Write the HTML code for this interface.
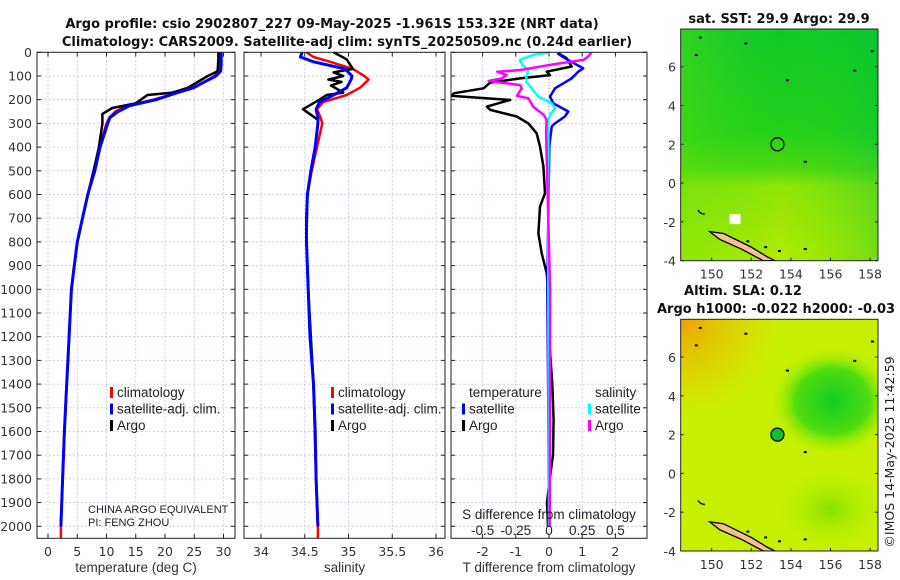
<!DOCTYPE html>
<html><head><meta charset="utf-8"><style>
body{margin:0;background:#fff}
svg{display:block;font-family:"Liberation Sans","DejaVu Sans",sans-serif}
.dv{font-family:"DejaVu Sans","Liberation Sans",sans-serif}
</style></head><body>
<svg id="c" width="900" height="580" viewBox="0 0 900 580">
<defs>
<linearGradient id="sstg" x1="0" y1="0" x2="0" y2="1">
<stop offset="0" stop-color="#10c828"/><stop offset="0.45" stop-color="#22d018"/><stop offset="0.6" stop-color="#50d810"/><stop offset="0.68" stop-color="#90e408"/><stop offset="1" stop-color="#b4ec00"/></linearGradient>
<linearGradient id="sstr" x1="0" y1="0" x2="1" y2="0">
<stop offset="0" stop-color="#60e010" stop-opacity="0.4"/><stop offset="0.5" stop-color="#30d818" stop-opacity="0"/><stop offset="1" stop-color="#00c040" stop-opacity="0.35"/></linearGradient>
<radialGradient id="slao" gradientUnits="userSpaceOnUse" cx="681" cy="319" r="110"><stop offset="0" stop-color="#f0a000"/><stop offset="0.6" stop-color="#e8c800" stop-opacity="0.5"/><stop offset="1" stop-color="#d0f000" stop-opacity="0"/></radialGradient>
<radialGradient id="slag" cx="0.5" cy="0.5" r="0.5"><stop offset="0" stop-color="#10cc20"/><stop offset="0.6" stop-color="#50dd10"/><stop offset="1" stop-color="#b0ee00" stop-opacity="0"/></radialGradient>
<radialGradient id="slag2" cx="0.5" cy="0.5" r="0.5"><stop offset="0" stop-color="#80e400"/><stop offset="1" stop-color="#c8f000" stop-opacity="0"/></radialGradient>
<clipPath id="clip1"><rect x="680.7" y="29" width="197.3" height="231.7"/></clipPath>
<clipPath id="clip2"><rect x="680.7" y="319.3" width="197.3" height="231.7"/></clipPath>
</defs>
<g class="dv" font-weight="bold" font-size="13" text-anchor="middle" fill="#111">
<text x="332" y="28">Argo profile: csio 2902807_227 09-May-2025 -1.961S 153.32E (NRT data)</text>
<text x="347" y="46">Climatology: CARS2009. Satellite-adj clim: synTS_20250509.nc (0.24d earlier)</text>
</g>
<g id="plots"></g>
<g id="maps"></g>
<text class="dv" transform="translate(894,452) rotate(-90)" text-anchor="middle" font-size="12.5" fill="#222">©IMOS 14-May-2025 11:42:59</text>
</svg>
<script>
// ---- data ----
const tDepth=[0,50,80,100,150,175,200,225,250,275,300,400,500,600,700,800,900,1000,1200,1400,1600,1800,2000,2050];
const tClim=[29.1,29.2,29.2,28.5,25,21.5,18,13.5,11.5,10.5,10,8.8,7.8,6.8,5.9,5.0,4.5,4.0,3.6,3.2,2.8,2.5,2.2,2.2];
const tSat=[29.6,29.6,29.5,28.7,24.8,21.5,18.5,14,12,10.6,10.2,8.9,8.0,6.8,5.9,5.0,4.5,4.0,3.6,3.2,2.8,2.5,2.2];
const tArgoDepth=[0,80,100,150,170,180,215,235,260,300,400,500,600,700,800,900,1000,1200,1400,1600,1800,2000];
const tArgo=[29.2,29.0,27.3,23.9,21.3,17,15,11,9.3,9.3,8.7,7.8,6.8,5.9,5.0,4.5,4.0,3.6,3.2,2.8,2.5,2.2];
const sDepth=[0,20,40,70,100,115,150,180,210,240,275,300,400,500,600,700,800,1000,1200,1400,1600,1800,2000,2050];
const sClim=[34.52,34.6,34.79,35.05,35.18,35.23,35.13,34.98,34.71,34.64,34.68,34.7,34.64,34.58,34.53,34.52,34.52,34.54,34.56,34.6,34.62,34.63,34.65,34.65];
const sSat=[34.47,34.45,34.6,34.96,35.04,35.03,34.98,34.83,34.67,34.63,34.65,34.65,34.62,34.57,34.53,34.52,34.52,34.54,34.56,34.6,34.62,34.63,34.65];
const sArgoDepth=[0,30,70,85,100,115,125,140,170,180,200,240,285,300,400,500,600,800,1000,1400,1800,2000];
const sArgo=[34.83,34.98,35.05,34.83,34.94,34.77,34.92,34.8,34.94,34.75,34.67,34.48,34.65,34.65,34.62,34.57,34.53,34.52,34.54,34.6,34.63,34.65];
const dTSatDepth=[4,25,68,82,110,152,187,215,250,271,300,313,398,1003,1500,2000];
const dTSat=[0.25,0.48,1.03,0.88,0.68,0.18,0.03,0.13,0.58,0.48,0.18,0.08,0.01,-0.05,-0.02,0];
const dTArgoDepth=[4,25,60,82,96,110,128,152,173,184,201,229,243,271,300,342,398,482,595,651,764,848,932,1003,1200,1400,1550,1700,1800,1900,2000];
const dTArgo=[0.28,0.53,0.68,-0.07,0.03,-0.87,-1.77,-1.97,-2.87,-2.92,-1.17,-1.87,-1.77,-0.97,-0.62,-0.37,-0.27,-0.17,-0.12,-0.27,-0.32,-0.22,-0.07,-0.02,0,0.1,0.14,0.12,0.02,-0.06,-0.03];
const dSSatDepth=[0,11,32,53,75,103,124,152,187,215,236,264,300,370,1003,2000];
const dSSat=[0.0075,-0.12,-0.22,-0.2,-0.155,-0.17,-0.17,-0.13,-0.08,0.02,0.045,0.008,-0.013,-0.005,-0.005,0];
const dSArgoDepth=[0,18,32,53,75,82,96,110,121,138,152,173,184,194,229,264,285,342,1003,2000];
const dSArgo=[0.32,0.295,0.26,0.0075,-0.22,-0.39,-0.32,-0.355,-0.455,-0.22,-0.205,-0.23,-0.24,-0.155,-0.12,-0.04,-0.018,-0.022,0.008,0.005];
const depthTicks=[0,100,200,300,400,500,600,700,800,900,1000,1100,1200,1300,1400,1500,1600,1700,1800,1900,2000];
const tTicks=[0,5,10,15,20,25,30];
const sTicks=[34,34.5,35,35.5,36];
const dTicks=[-2,-1,0,1,2];
const dSTickLabels=["-0.5","-0.25","0","0.25","0.5"];
const dSTickVals=[-0.5,-0.25,0,0.25,0.5];

const NS="http://www.w3.org/2000/svg";
function mk(tag,attrs,parent,txt){const e=document.createElementNS(NS,tag);for(const k in attrs)e.setAttribute(k,attrs[k]);if(txt!==undefined)e.textContent=txt;parent.appendChild(e);return e;}
const yD=d=>52.3+d*0.237;
const plots=document.getElementById('plots');
const panels=[
 {name:'temperature-panel',x0:37,x1:235,f:v=>48+v*5.85,ticks:tTicks,lbl:tTicks.map(String),label:'temperature (deg C)'},
 {name:'salinity-panel',x0:244,x1:445,f:v=>261+(v-34)*87.5,ticks:sTicks,lbl:["34","34.5","35","35.5","36"],label:'salinity'},
 {name:'difference-panel',x0:451,x1:647,f:v=>549+v*33.2,ticks:dTicks,lbl:dTicks.map(String),label:'T difference from climatology'}
];
panels.forEach((p,pi)=>{
 const g=mk('g',{},plots);
 
 
 mk('rect',{x:p.x0,y:52.3,width:p.x1-p.x0,height:486,fill:'#fff'},g);
 depthTicks.forEach(d=>{mk('line',{x1:p.x0,x2:p.x1,y1:yD(d),y2:yD(d),stroke:'#c0c4e8','stroke-width':0.8,'stroke-dasharray':'2,2'},g);
  mk('line',{x1:p.x0,x2:p.x0+4,y1:yD(d),y2:yD(d),stroke:'#222'},g);mk('line',{x1:p.x1-4,x2:p.x1,y1:yD(d),y2:yD(d),stroke:'#222'},g);});
 p.ticks.forEach((t,i)=>{const x=p.f(t);
  mk('line',{x1:x,x2:x,y1:52.3,y2:538.3,stroke:(pi==2&&t==0)?'#555':'#c0c4e8','stroke-width':0.8,'stroke-dasharray':(pi==2&&t==0)?'1,2':'2,2'},g);
  mk('line',{x1:x,x2:x,y1:538.3,y2:534,stroke:'#222'},g);mk('line',{x1:x,x2:x,y1:52.3,y2:56.5,stroke:'#222'},g);
  const tl=mk('text',{x:x,y:556,'text-anchor':'middle','font-size':12.5,fill:'#333',class:'dv'},g,p.lbl[i]);
  
  });
 const al=mk('text',{x:(p.x0+p.x1)/2,y:572,'text-anchor':'middle','font-size':13.5,fill:'#333'},g,p.label);
 
 
 p.g=g;
});
const yax=mk('g',{class:'dv'},plots);


depthTicks.forEach(d=>mk('text',{x:32,y:yD(d)+4.5,'text-anchor':'end','font-size':12.5,fill:'#333'},yax,String(d)));
function line(g,depths,vals,f,color,name,w){
 const dstr=vals.map((v,i)=>(i?'L':'M')+f(v).toFixed(1)+','+yD(depths[i]).toFixed(1)).join('');
 const pth=mk('path',{d:dstr,fill:'none',stroke:color,'stroke-width':w||3,'stroke-linejoin':'round'},g);
 
 
}
const P=panels;
line(P[0].g,tDepth,tClim,P[0].f,'#f00','temp-climatology-line',2.5);
line(P[0].g,tArgoDepth,tArgo,P[0].f,'#000','temp-argo-line',2.5);
line(P[0].g,tDepth.slice(0,tSat.length),tSat,P[0].f,'#00f','temp-satellite-line',3);
line(P[1].g,sDepth,sClim,P[1].f,'#f00','sal-climatology-line',2.5);
line(P[1].g,sArgoDepth,sArgo,P[1].f,'#000','sal-argo-line',2.5);
line(P[1].g,sDepth.slice(0,sSat.length),sSat,P[1].f,'#00f','sal-satellite-line',3);
const fS=v=>549+v*132.8;
line(P[2].g,dTArgoDepth,dTArgo,P[2].f,'#000','tdiff-argo-line',2.5);
line(P[2].g,dTSatDepth,dTSat,P[2].f,'#00f','tdiff-satellite-line',2.5);
line(P[2].g,dSSatDepth,dSSat,fS,'#0ff','sdiff-satellite-line',2.5);
line(P[2].g,dSArgoDepth,dSArgo,fS,'#f0f','sdiff-argo-line',2.5);
panels.forEach(p=>mk('rect',{x:p.x0,y:52.3,width:p.x1-p.x0,height:486,fill:'none',stroke:'#222','stroke-width':1},p.g));
function legend(x,y,items,g){items.forEach((it,i)=>{
 if(it[0])mk('rect',{x:x,y:y+i*16.5-10,width:3,height:11,fill:it[0]},g);
 const t=mk('text',{x:x+7,y:y+i*16.5,'font-size':13.5,fill:'#222'},g,it[1]);
 
 });}
legend(110,397,[['#f00','climatology'],['#00f','satellite-adj. clim.'],['#000','Argo']],P[0].g);
legend(331,397,[['#f00','climatology'],['#00f','satellite-adj. clim.'],['#000','Argo']],P[1].g);
legend(462,397,[[null,'temperature'],['#00f','satellite'],['#000','Argo']],P[2].g);
legend(588,397,[[null,'salinity'],['#0ff','satellite'],['#f0f','Argo']],P[2].g);
mk('text',{x:88,y:513,'font-size':11,fill:'#222'},P[0].g,'CHINA ARGO EQUIVALENT');
mk('text',{x:88,y:526,'font-size':11,fill:'#222'},P[0].g,'PI: FENG ZHOU');
mk('text',{x:549,y:519,'text-anchor':'middle','font-size':13.5,fill:'#222'},P[2].g,'S difference from climatology');
dSTickVals.forEach((v,i)=>mk('text',{x:fS(v),y:535,'text-anchor':'middle','font-size':13.5,fill:'#222'},P[2].g,dSTickLabels[i]));

// ---- maps ----
const lonTicks=[150,152,154,156,158];
const latTicks=[-4,-2,0,2,4,6];
const argoLon=153.32, argoLat=-1.961+3.96;
const maps=document.getElementById('maps');
function map(top,name,clip,bg){
 const g=mk('g',{},maps);
 
 
 const X=lon=>711.7+(lon-150)*19.8, Y=lat=>top+37.7+(6-lat)*19.4;
 const x0=680.7,x1=878,y0=top,y1=top+231.7;
 const inner=mk('g',{'clip-path':'url(#'+clip+')'},g);
 bg(inner,x0,y0,x1-x0,y1-y0);
 mk('path',{d:`M${X(149.9)},${Y(-2.5)} L${X(150.6)},${Y(-2.6)} L${X(152)},${Y(-3.3)} L${X(152.8)},${Y(-3.8)} L${X(153.2)},${Y(-4)} L${X(152.6)},${Y(-4)} L${X(151.5)},${Y(-3.4)} L${X(150.4)},${Y(-2.9)} Z`,fill:'#f5c090',stroke:'#000','stroke-width':1.3},inner);
 mk('path',{d:`M${X(149.3)},${Y(-1.4)} l3,3 l4,1`,fill:'none',stroke:'#000','stroke-width':1.3},inner);
 [[151.7,7.2],[158.1,6.8],[153.8,5.3],[149.4,7.5],[149.2,6.6],[154.7,1.1],[152.7,-3.3],[153.4,-3.5],[151.8,-3],[154.7,-3.4],[157.2,5.8]].forEach(p=>mk('rect',{x:X(p[0])-1,y:Y(p[1])-1,width:3,height:2,fill:'#000'},inner));
 mk('rect',{x:x0,y:y0,width:x1-x0,height:y1-y0,fill:'none',stroke:'#222'},g);
 lonTicks.forEach(l=>{mk('line',{x1:X(l),x2:X(l),y1:y1,y2:y1-3,stroke:'#222'},g);mk('text',{x:X(l),y:y1+18,'text-anchor':'middle','font-size':12.5,fill:'#333',class:'dv'},g,String(l));});
 latTicks.forEach(l=>{mk('line',{x1:x0,x2:x0+3,y1:Y(l),y2:Y(l),stroke:'#222'},g);mk('line',{x1:x1,x2:x1-3,y1:Y(l),y2:Y(l),stroke:'#222'},g);mk('text',{x:676,y:Y(l)+5,'text-anchor':'end','font-size':12.5,fill:'#333',class:'dv'},g,String(l));});
 return {g,X,Y,inner};
}
const m1=map(29,'sst-map','clip1',(g,x,y,w,h)=>{mk('rect',{x,y,width:w,height:h,fill:'url(#sstg)'},g);mk('rect',{x,y,width:w,height:h,fill:'url(#sstr)'},g);});
mk('rect',{x:m1.X(150.9),y:m1.Y(-1.6),width:11,height:10,fill:'#fff'},m1.inner);
const c1=mk('circle',{cx:m1.X(argoLon),cy:m1.Y(argoLat),r:6.5,fill:'none',stroke:'#000','stroke-width':1.3},m1.g);


mk('text',{x:779,y:23,'text-anchor':'middle','font-size':13,'font-weight':'bold',fill:'#111',class:'dv'},m1.g,'sat. SST: 29.9 Argo: 29.9');
const m2=map(319.3,'sla-map','clip2',(g,x,y,w,h)=>{mk('rect',{x,y,width:w,height:h,fill:'#c6f000'},g);
 mk('rect',{x,y,width:w,height:h,fill:'url(#slao)'},g);
 mk('ellipse',{cx:x+152,cy:y+82,rx:62,ry:54,fill:'url(#slag)'},g);
 mk('ellipse',{cx:x+150,cy:y+190,rx:60,ry:45,fill:'url(#slag2)'},g);});
const c2=mk('circle',{cx:m2.X(argoLon),cy:m2.Y(argoLat),r:6.5,fill:'#10c030',stroke:'#000','stroke-width':1.3},m2.g);


mk('text',{x:743,y:295,'text-anchor':'middle','font-size':13,'font-weight':'bold',fill:'#111',class:'dv'},m2.g,'Altim. SLA: 0.12');
mk('text',{x:657,y:313,'font-size':13,'font-weight':'bold',fill:'#111',class:'dv'},m2.g,'Argo h1000: -0.022 h2000: -0.03');
</script>
</body></html>
